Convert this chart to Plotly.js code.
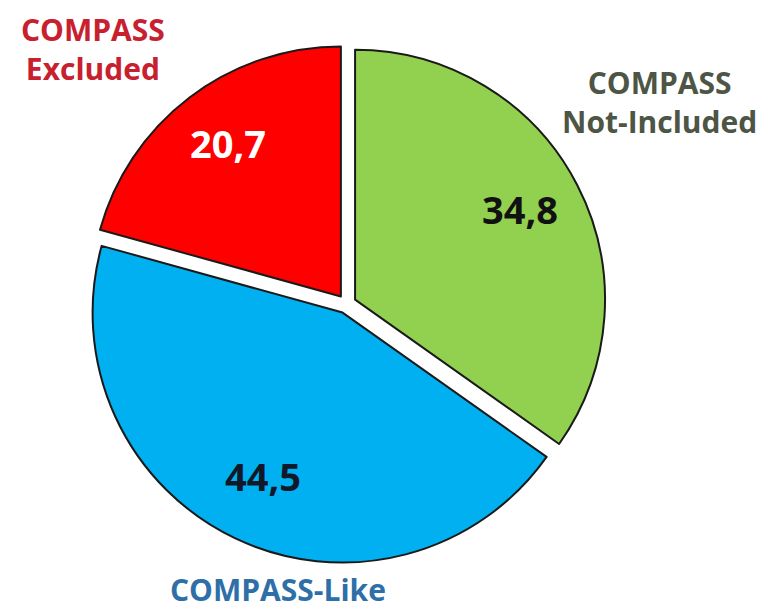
<!DOCTYPE html>
<html>
<head>
<meta charset="utf-8">
<script src="https://cdn.plot.ly/plotly-3.0.1.min.js"></script>
<style>html,body{margin:0;padding:0;background:#fff;}#chart{width:762px;height:612px;}</style>
</head>
<body>
<div id="chart"></div>
<script>
var categories = ["COMPASS Not-Included", "COMPASS-Like", "COMPASS Excluded"];
var values = [34.8, 44.5, 20.7];
var valueLabels = ["34,8", "44,5", "20,7"];
var sliceColors = ["#92D050", "#00B0F0", "#FF0000"];
var valueColors = ["#111111", "#10182a", "#FFFFFF"];
var labelLines = [["COMPASS", "Not-Included"], ["COMPASS-Like"], ["COMPASS", "Excluded"]];
var labelColors = ["#4d5545", "#2F6FA8", "#C8202F"];

var W = 762, H = 612;
var pulls = [0.038, 0.038, 0.038];

var trace = {
  type: "pie",
  labels: categories,
  values: values,
  text: valueLabels,
  textinfo: "none",
  sort: false,
  direction: "clockwise",
  rotation: 0,
  pull: pulls,
  marker: {colors: sliceColors, line: {color: "#1a1a1a", width: 2}},
  hoverinfo: "label+value",
  domain: {x: [0.1144, 0.7954], y: [0.0793, 0.9273]}
};

var labelPos = [
  {x: 659 / W, y: 1 - 102 / H},
  {x: 278 / W, y: 1 - 589 / H},
  {x: 93 / W, y: 1 - 49 / H}
];

var nameAnnotations = categories.map(function (c, i) {
  return {
    xref: "paper", yref: "paper",
    x: labelPos[i].x, y: labelPos[i].y,
    xanchor: "center", yanchor: "middle",
    text: labelLines[i].join("<br>"),
    showarrow: false,
    align: "center",
    font: {family: "Open Sans", size: 30, color: labelColors[i], weight: "bold"}
  };
});

var layout = {
  width: W, height: H,
  margin: {l: 0, r: 0, t: 0, b: 0},
  paper_bgcolor: "#ffffff",
  showlegend: false,
  annotations: nameAnnotations
};

var gd = document.getElementById("chart");
Plotly.newPlot(gd, [trace], layout, {displayModeBar: false, staticPlot: true}).then(function () {
  var cd = gd.calcdata[0];
  var cd0 = cd[0];
  var cx = cd0.cx, cy = cd0.cy, r = cd0.r;
  var frac = 0.745;
  var valueAnnotations = cd.map(function (pt) {
    var i = pt.i;
    var mid = pt.midangle;
    var ux = Math.sin(mid), uy = -Math.cos(mid);
    var px = cx + r * ux * (pulls[i] + frac);
    var py = cy + r * uy * (pulls[i] + frac);
    return {
      xref: "paper", yref: "paper",
      x: px / W, y: 1 - py / H,
      xanchor: "center", yanchor: "middle",
      yshift: 5,
      text: valueLabels[i],
      showarrow: false,
      font: {family: "Open Sans", size: 38, color: valueColors[i], weight: "bold"}
    };
  });
  return Plotly.relayout(gd, {annotations: nameAnnotations.concat(valueAnnotations)});
});
</script>
</body>
</html>
